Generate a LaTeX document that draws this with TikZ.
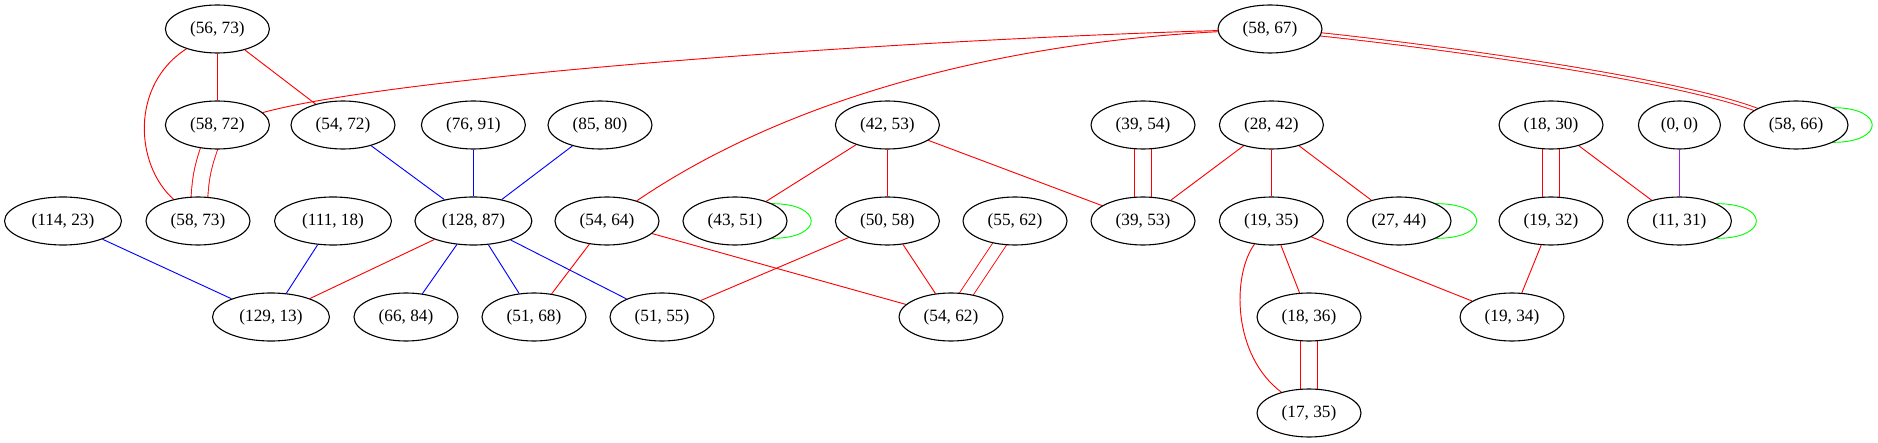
\documentclass[tikz,border=0pt]{standalone}
\usepackage{fontspec}
\setmainfont{Liberation Serif}
\usetikzlibrary{shapes.geometric}
\pgfdeclarelayer{bg}
\pgfsetlayers{bg,main}
\definecolor{gvred}{RGB}{255,0,0}
\definecolor{gvblue}{RGB}{0,0,255}
\definecolor{gvgreen}{RGB}{0,255,0}
\definecolor{gvpurple}{RGB}{160,32,240}
\begin{document}
\begin{tikzpicture}[x=0.8125pt, y=-0.8125pt,
  nd/.style={ellipse, draw=black, line width=0.9pt, fill=white, minimum width=84.5pt, minimum height=39pt, inner sep=0pt, font=\fontsize{14pt}{16pt}\selectfont},
  wide/.style={nd, minimum width=95pt},
  narrow/.style={nd, minimum width=66.6pt},
  re/.style={draw=gvred, line width=0.75pt},
  be/.style={draw=gvblue, line width=0.75pt},
  pe/.style={draw=gvpurple, line width=0.75pt},
  dre/.style={re, double=white, double distance=12.8pt, shorten <=-3pt, shorten >=-3pt},
  loopst/.style={draw=gvgreen, line width=0.75pt}]
\useasboundingbox (0,0) rectangle (1878,443);
% row 1
\node[nd] (n5673) at (217.4,29) {(56, 73)};
\node[nd] (n5867) at (1270,29) {(58, 67)};
% row 2
\node[nd] (n5872) at (217.4,125) {(58, 72)};
\node[nd] (n5472) at (343,125) {(54, 72)};
\node[nd] (n7691) at (473.4,125) {(76, 91)};
\node[nd] (n8580) at (600,125) {(85, 80)};
\node[nd] (n4253) at (887.4,125) {(42, 53)};
\node[nd] (n3954) at (1143,125) {(39, 54)};
\node[nd] (n2842) at (1271.4,125) {(28, 42)};
\node[nd] (n1830) at (1551,125) {(18, 30)};
\node[narrow] (n00) at (1679.4,125) {(0, 0)};
\node[nd] (n5866) at (1796,125) {(58, 66)};
% row 3
\node[wide] (n11423) at (63,221) {(114, 23)};
\node[nd] (n5873) at (198,221) {(58, 73)};
\node[wide] (n11118) at (333,221) {(111, 18)};
\node[wide] (n12887) at (473.4,221) {(128, 87)};
\node[nd] (n5464) at (607,221) {(54, 64)};
\node[nd] (n4351) at (735,221) {(43, 51)};
\node[nd] (n5058) at (887.4,221) {(50, 58)};
\node[nd] (n5562) at (1015,221) {(55, 62)};
\node[nd] (n3953) at (1143,221) {(39, 53)};
\node[nd] (n1935) at (1271.4,221) {(19, 35)};
\node[nd] (n2744) at (1399,221) {(27, 44)};
\node[nd] (n1932) at (1551,221) {(19, 32)};
\node[nd] (n1131) at (1679.4,221) {(11, 31)};
% row 4
\node[wide] (n12913) at (271,317) {(129, 13)};
\node[nd] (n6684) at (406,317) {(66, 84)};
\node[nd] (n5168) at (534,317) {(51, 68)};
\node[nd] (n5155) at (662,317) {(51, 55)};
\node[nd] (n5462) at (951,317) {(54, 62)};
\node[nd] (n1836) at (1309,317) {(18, 36)};
\node[nd] (n1934) at (1512,317) {(19, 34)};
% row 5
\node[nd] (n1735) at (1309,413) {(17, 35)};

\begin{pgfonlayer}{bg}
% red connectors
\draw[re] (n5673) -- (n5872);
\draw[re] (n5673) -- (n5472);
\draw[re] (n5673) .. controls (130,85) and (135,165) .. (n5873);
\draw[dre] (n5872) to[bend right=8] (n5873);
\draw[re] (n5867) .. controls (900,40) and (400,75) .. (n5872);
\draw[re] (n5867) .. controls (1020,42) and (800,90) .. (n5464);
\draw[dre, double distance=1.9pt] (n5867) .. controls (1450,48) and (1680,80) .. (n5866);
\draw[re] (n4253) -- (n4351);
\draw[re] (n4253) -- (n5058);
\draw[re] (n4253) -- (n3953);
\draw[dre] (n3954) -- (n3953);
\draw[re] (n2842) -- (n3953);
\draw[re] (n2842) -- (n1935);
\draw[re] (n2842) -- (n2744);
\draw[dre] (n1830) -- (n1932);
\draw[re] (n1830) -- (n1131);
\draw[re] (n1932) -- (n1934);
\draw[re] (n1935) -- (n1836);
\draw[re] (n1935) -- (n1934);
\draw[re] (n1935) .. controls (1232,275) and (1232,355) .. (n1735);
\draw[dre] (n1836) -- (n1735);
\draw[re] (n12887) -- (n12913);
\draw[re] (n5464) -- (n5168);
\draw[re] (n5464) -- (n5462);
\draw[re] (n5058) -- (n5155);
\draw[re] (n5058) -- (n5462);
\draw[dre, double distance=9.4pt] (n5562) -- (n5462);
% blue connectors
\draw[be] (n5472) -- (n12887);
\draw[be] (n7691) -- (n12887);
\draw[be] (n8580) -- (n12887);
\draw[be] (n11423) -- (n12913);
\draw[be] (n11118) -- (n12913);
\draw[be] (n12887) -- (n6684);
\draw[be] (n12887) -- (n5168);
\draw[be] (n12887) -- (n5155);
% purple connector
\draw[pe] (n00) -- (n1131);
% green self loops
\draw[loopst] (n4351.25) .. controls +(52,0) and +(52,0) .. (n4351.-25);
\draw[loopst] (n2744.25) .. controls +(54,0) and +(54,0) .. (n2744.-25);
\draw[loopst] (n1131.25) .. controls +(53,0) and +(53,0) .. (n1131.-25);
\draw[loopst] (n5866.25) .. controls +(52,0) and +(52,0) .. (n5866.-25);
\end{pgfonlayer}
\end{tikzpicture}
\end{document}
